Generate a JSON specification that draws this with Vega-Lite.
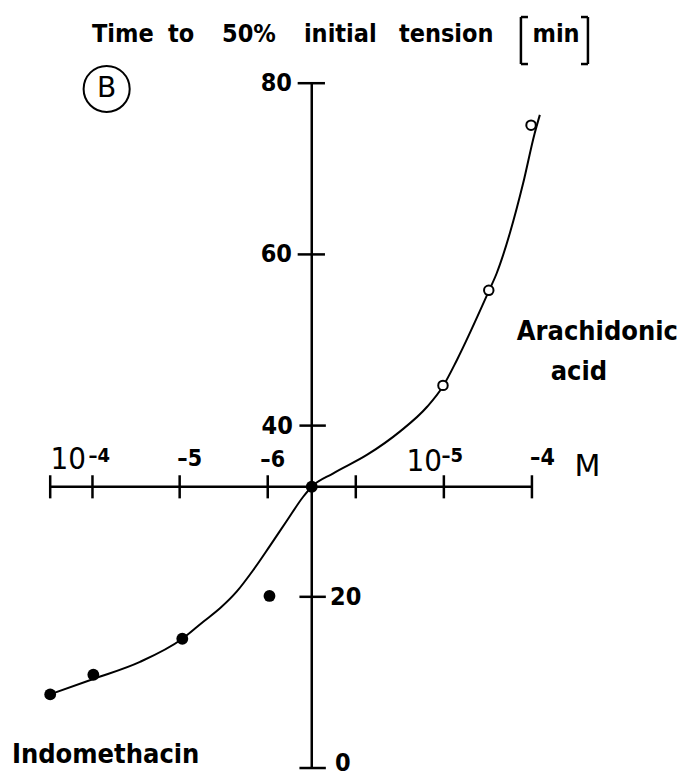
{
  "$schema": "https://vega.github.io/schema/vega-lite/v6.json",
  "width": 679,
  "height": 780,
  "autosize": {"type": "none"},
  "padding": 0,
  "background": "white",
  "config": {"view": {"stroke": null}, "text": {"font": "DejaVu Sans Condensed, DejaVu Sans, sans-serif", "color": "black"}},
  "datasets": {
    "segs": [
      {"part": "y-axis", "x": 0, "x2": 0, "y": 0, "y2": 80},
      {"part": "x-axis", "x": -2.97, "x2": 2.5, "y": 32.86, "y2": 32.86},
      {"part": "xtick", "x": -2.97, "x2": -2.97, "y": 31.5, "y2": 34.2},
      {"part": "xtick", "x": -2.49, "x2": -2.49, "y": 31.5, "y2": 34.2},
      {"part": "xtick", "x": -1.5, "x2": -1.5, "y": 31.5, "y2": 34.2},
      {"part": "xtick", "x": -0.5, "x2": -0.5, "y": 31.5, "y2": 34.2},
      {"part": "xtick", "x": 0.5, "x2": 0.5, "y": 31.5, "y2": 34.2},
      {"part": "xtick", "x": 1.5, "x2": 1.5, "y": 31.5, "y2": 34.2},
      {"part": "xtick", "x": 2.5, "x2": 2.5, "y": 31.5, "y2": 34.2},
      {"part": "ytick", "x": -0.14, "x2": 0.16, "y": 0, "y2": 0},
      {"part": "ytick", "x": -0.14, "x2": 0.16, "y": 20, "y2": 20},
      {"part": "ytick", "x": -0.14, "x2": 0.16, "y": 40, "y2": 40},
      {"part": "ytick", "x": -0.16, "x2": 0.15, "y": 60, "y2": 60},
      {"part": "ytick", "x": -0.16, "x2": 0.15, "y": 80, "y2": 80},
      {"part": "bracket", "x": 2.375, "x2": 2.375, "y": 82.24, "y2": 87.73},
      {"part": "bracket", "x": 2.375, "x2": 2.455, "y": 87.73, "y2": 87.73},
      {"part": "bracket", "x": 2.375, "x2": 2.455, "y": 82.24, "y2": 82.24},
      {"part": "bracket", "x": 3.136, "x2": 3.136, "y": 82.24, "y2": 87.73},
      {"part": "bracket", "x": 3.057, "x2": 3.136, "y": 87.73, "y2": 87.73},
      {"part": "bracket", "x": 3.057, "x2": 3.136, "y": 82.24, "y2": 82.24}
    ],
    "curve": [
      {"x": -3.0, "y": 8.5},
      {"x": -2.48, "y": 10.4},
      {"x": -1.95, "y": 12.4},
      {"x": -1.477, "y": 15.04},
      {"x": -1.232, "y": 17.09},
      {"x": -1.042, "y": 18.66},
      {"x": -0.853, "y": 20.6},
      {"x": -0.664, "y": 23.13},
      {"x": -0.475, "y": 25.95},
      {"x": -0.285, "y": 28.85},
      {"x": -0.097, "y": 31.69},
      {"x": 0, "y": 32.86},
      {"x": 0.24, "y": 34.4},
      {"x": 0.63, "y": 36.6},
      {"x": 1.0, "y": 39.3},
      {"x": 1.31, "y": 42.2},
      {"x": 1.49, "y": 44.6},
      {"x": 1.65, "y": 47.7},
      {"x": 2.01, "y": 55.7},
      {"x": 2.1, "y": 57.8},
      {"x": 2.25, "y": 62.5},
      {"x": 2.4, "y": 68.3},
      {"x": 2.53, "y": 74.1},
      {"x": 2.59, "y": 76.3}
    ],
    "indomethacin": [
      {"x": -2.97, "y": 8.6},
      {"x": -2.48, "y": 10.9},
      {"x": -1.47, "y": 15.1},
      {"x": -0.48, "y": 20.1},
      {"x": 0, "y": 32.86}
    ],
    "arachidonic": [
      {"x": 1.49, "y": 44.7},
      {"x": 2.01, "y": 55.8},
      {"x": 2.49, "y": 75.1}
    ],
    "panel": [{"x": -2.329, "y": 79.33, "t": "B"}],
    "title": [
      {"x": -2.496, "y": 84.85, "t": "Time"},
      {"x": -1.633, "y": 84.85, "t": "to"},
      {"x": -1.019, "y": 84.85, "t": "50%"},
      {"x": -0.089, "y": 84.85, "t": "initial"},
      {"x": 0.99, "y": 84.85, "t": "tension"},
      {"x": 2.506, "y": 84.85, "t": "min"}
    ],
    "ylabL": [
      {"x": -0.225, "y": 80, "t": "80"},
      {"x": -0.225, "y": 60, "t": "60"},
      {"x": -0.214, "y": 40, "t": "40"}
    ],
    "ylabR": [
      {"x": 0.207, "y": 20, "t": "20"},
      {"x": 0.263, "y": 0.6, "t": "0"}
    ],
    "xlab": [
      {"x": -1.386, "y": 36.1, "t": "–5"},
      {"x": -0.443, "y": 36.0, "t": "–6"},
      {"x": 2.62, "y": 36.27, "t": "–4"}
    ],
    "xsup": [
      {"x": -2.413, "y": 36.4, "t": "–4"},
      {"x": 1.595, "y": 36.4, "t": "–5"}
    ],
    "xten": [
      {"x": -2.765, "y": 36.0, "t": "10"},
      {"x": 1.276, "y": 35.8, "t": "10"}
    ],
    "unit": [{"x": 3.13, "y": 35.17, "t": "M"}],
    "seriesC": [
      {"x": 3.243, "y": 50.97, "t": "Arachidonic"},
      {"x": 3.034, "y": 46.3, "t": "acid"}
    ],
    "seriesL": [{"x": -3.405, "y": 1.52, "t": "Indomethacin"}]
  },
  "layer": [
    {
      "data": {"name": "segs"},
      "mark": {"type": "rule", "color": "black", "strokeWidth": 2.5},
      "encoding": {
        "x": {"field": "x", "type": "quantitative", "scale": {"domain": [-3.54, 4.17], "nice": false, "zero": false}, "axis": null},
        "x2": {"field": "x2"},
        "y": {"field": "y", "type": "quantitative", "scale": {"domain": [-1.4, 89.72], "nice": false, "zero": false}, "axis": null},
        "y2": {"field": "y2"}
      }
    },
    {
      "data": {"name": "curve"},
      "mark": {"type": "line", "color": "black", "strokeWidth": 2, "interpolate": "monotone"},
      "encoding": {
        "x": {"field": "x", "type": "quantitative", "scale": {"domain": [-3.54, 4.17], "nice": false, "zero": false}, "axis": null},
        "y": {"field": "y", "type": "quantitative", "scale": {"domain": [-1.4, 89.72], "nice": false, "zero": false}, "axis": null}
      }
    },
    {
      "data": {"name": "indomethacin"},
      "mark": {"type": "point", "shape": "circle", "filled": true, "color": "black", "size": 140, "opacity": 1},
      "encoding": {
        "x": {"field": "x", "type": "quantitative", "scale": {"domain": [-3.54, 4.17], "nice": false, "zero": false}, "axis": null},
        "y": {"field": "y", "type": "quantitative", "scale": {"domain": [-1.4, 89.72], "nice": false, "zero": false}, "axis": null}
      }
    },
    {
      "data": {"name": "arachidonic"},
      "mark": {"type": "point", "shape": "circle", "filled": false, "fill": "white", "fillOpacity": 1, "stroke": "black", "strokeWidth": 2, "size": 90, "opacity": 1},
      "encoding": {
        "x": {"field": "x", "type": "quantitative", "scale": {"domain": [-3.54, 4.17], "nice": false, "zero": false}, "axis": null},
        "y": {"field": "y", "type": "quantitative", "scale": {"domain": [-1.4, 89.72], "nice": false, "zero": false}, "axis": null}
      }
    },
    {
      "data": {"name": "panel"},
      "mark": {"type": "point", "shape": "circle", "filled": false, "stroke": "black", "strokeWidth": 2, "size": 2124, "opacity": 1},
      "encoding": {
        "x": {"field": "x", "type": "quantitative", "scale": {"domain": [-3.54, 4.17], "nice": false, "zero": false}, "axis": null},
        "y": {"field": "y", "type": "quantitative", "scale": {"domain": [-1.4, 89.72], "nice": false, "zero": false}, "axis": null}
      }
    },
    {
      "data": {"name": "panel"},
      "mark": {"type": "text", "fontSize": 28, "align": "center", "baseline": "middle", "font": "DejaVu Sans"},
      "encoding": {
        "x": {"field": "x", "type": "quantitative", "scale": {"domain": [-3.54, 4.17], "nice": false, "zero": false}, "axis": null},
        "y": {"field": "y", "type": "quantitative", "scale": {"domain": [-1.4, 89.72], "nice": false, "zero": false}, "axis": null},
        "text": {"field": "t"}
      }
    },
    {
      "data": {"name": "title"},
      "mark": {"type": "text", "fontSize": 25, "fontWeight": "bold", "align": "left", "baseline": "alphabetic"},
      "encoding": {
        "x": {"field": "x", "type": "quantitative", "scale": {"domain": [-3.54, 4.17], "nice": false, "zero": false}, "axis": null},
        "y": {"field": "y", "type": "quantitative", "scale": {"domain": [-1.4, 89.72], "nice": false, "zero": false}, "axis": null},
        "text": {"field": "t"}
      }
    },
    {
      "data": {"name": "ylabL"},
      "mark": {"type": "text", "fontSize": 25, "fontWeight": "bold", "align": "right", "baseline": "middle"},
      "encoding": {
        "x": {"field": "x", "type": "quantitative", "scale": {"domain": [-3.54, 4.17], "nice": false, "zero": false}, "axis": null},
        "y": {"field": "y", "type": "quantitative", "scale": {"domain": [-1.4, 89.72], "nice": false, "zero": false}, "axis": null},
        "text": {"field": "t"}
      }
    },
    {
      "data": {"name": "ylabR"},
      "mark": {"type": "text", "fontSize": 25, "fontWeight": "bold", "align": "left", "baseline": "middle"},
      "encoding": {
        "x": {"field": "x", "type": "quantitative", "scale": {"domain": [-3.54, 4.17], "nice": false, "zero": false}, "axis": null},
        "y": {"field": "y", "type": "quantitative", "scale": {"domain": [-1.4, 89.72], "nice": false, "zero": false}, "axis": null},
        "text": {"field": "t"}
      }
    },
    {
      "data": {"name": "xlab"},
      "mark": {"type": "text", "fontSize": 23, "fontWeight": "bold", "align": "center", "baseline": "middle"},
      "encoding": {
        "x": {"field": "x", "type": "quantitative", "scale": {"domain": [-3.54, 4.17], "nice": false, "zero": false}, "axis": null},
        "y": {"field": "y", "type": "quantitative", "scale": {"domain": [-1.4, 89.72], "nice": false, "zero": false}, "axis": null},
        "text": {"field": "t"}
      }
    },
    {
      "data": {"name": "xsup"},
      "mark": {"type": "text", "fontSize": 20, "fontWeight": "bold", "align": "center", "baseline": "middle"},
      "encoding": {
        "x": {"field": "x", "type": "quantitative", "scale": {"domain": [-3.54, 4.17], "nice": false, "zero": false}, "axis": null},
        "y": {"field": "y", "type": "quantitative", "scale": {"domain": [-1.4, 89.72], "nice": false, "zero": false}, "axis": null},
        "text": {"field": "t"}
      }
    },
    {
      "data": {"name": "xten"},
      "mark": {"type": "text", "fontSize": 31, "align": "center", "baseline": "middle"},
      "encoding": {
        "x": {"field": "x", "type": "quantitative", "scale": {"domain": [-3.54, 4.17], "nice": false, "zero": false}, "axis": null},
        "y": {"field": "y", "type": "quantitative", "scale": {"domain": [-1.4, 89.72], "nice": false, "zero": false}, "axis": null},
        "text": {"field": "t"}
      }
    },
    {
      "data": {"name": "unit"},
      "mark": {"type": "text", "fontSize": 30, "align": "center", "baseline": "middle", "font": "DejaVu Sans"},
      "encoding": {
        "x": {"field": "x", "type": "quantitative", "scale": {"domain": [-3.54, 4.17], "nice": false, "zero": false}, "axis": null},
        "y": {"field": "y", "type": "quantitative", "scale": {"domain": [-1.4, 89.72], "nice": false, "zero": false}, "axis": null},
        "text": {"field": "t"}
      }
    },
    {
      "data": {"name": "seriesC"},
      "mark": {"type": "text", "fontSize": 27, "fontWeight": "bold", "align": "center", "baseline": "middle"},
      "encoding": {
        "x": {"field": "x", "type": "quantitative", "scale": {"domain": [-3.54, 4.17], "nice": false, "zero": false}, "axis": null},
        "y": {"field": "y", "type": "quantitative", "scale": {"domain": [-1.4, 89.72], "nice": false, "zero": false}, "axis": null},
        "text": {"field": "t"}
      }
    },
    {
      "data": {"name": "seriesL"},
      "mark": {"type": "text", "fontSize": 27, "fontWeight": "bold", "align": "left", "baseline": "middle"},
      "encoding": {
        "x": {"field": "x", "type": "quantitative", "scale": {"domain": [-3.54, 4.17], "nice": false, "zero": false}, "axis": null},
        "y": {"field": "y", "type": "quantitative", "scale": {"domain": [-1.4, 89.72], "nice": false, "zero": false}, "axis": null},
        "text": {"field": "t"}
      }
    }
  ]
}
